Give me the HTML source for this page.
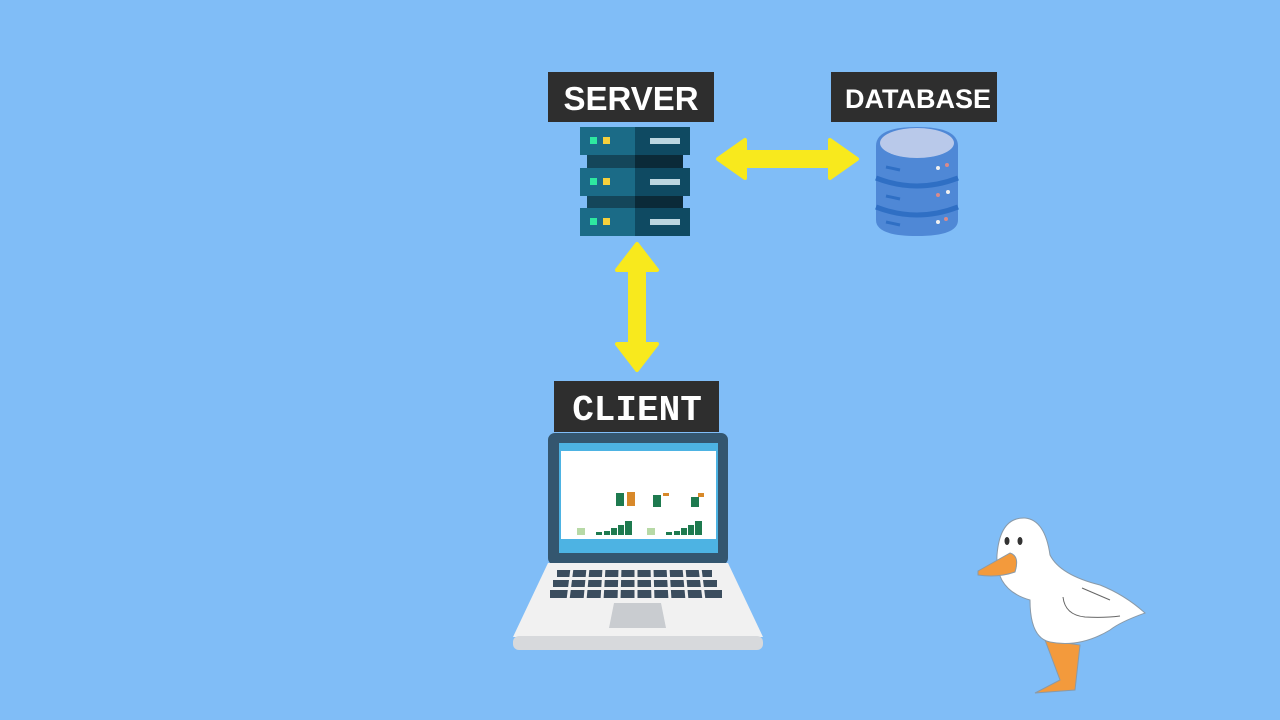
<!DOCTYPE html>
<html><head><meta charset="utf-8"><style>
html,body{margin:0;padding:0;background:#80bdf7;}
svg{display:block}
text{font-family:"Liberation Sans",sans-serif;font-weight:bold;fill:#fff}
</style></head><body>
<svg width="1280" height="720" viewBox="0 0 1280 720">
<rect width="1280" height="720" fill="#80bdf7"/>
<!-- labels -->
<rect x="548" y="72" width="166" height="50" fill="#2e2e2e"/>
<text x="631" y="110" font-size="33" text-anchor="middle">SERVER</text>
<rect x="831" y="72" width="166" height="50" fill="#2e2e2e"/>
<text x="918" y="108" font-size="27" text-anchor="middle">DATABASE</text>
<rect x="554" y="381" width="165" height="51" fill="#2e2e2e"/>
<text x="637" y="420" font-size="36" text-anchor="middle" style="font-family:'Liberation Mono',monospace">CLIENT</text>
<!-- server -->
<g>
<rect x="587" y="154" width="48" height="16" fill="#14465a"/><rect x="635" y="154" width="48" height="16" fill="#0b2a38"/>
<rect x="587" y="195" width="48" height="16" fill="#14465a"/><rect x="635" y="195" width="48" height="16" fill="#0b2a38"/>
<g id="u">
<rect x="580" y="127" width="55" height="28" fill="#1b6b87"/><rect x="635" y="127" width="55" height="28" fill="#0f4a62"/>
<rect x="590" y="137" width="7" height="7" fill="#2ee8a0"/><rect x="603" y="137" width="7" height="7" fill="#f5cf3c"/>
<rect x="650" y="138" width="30" height="6" fill="#bcd6e0"/>
</g>
<use href="#u" y="41"/><use href="#u" y="81"/>
</g>
<!-- arrows -->
<polygon points="718,159 745,140 745,152 830,152 830,140 857,159 830,178 830,166 745,166 745,178" fill="#f8e91d" stroke="#f8e91d" stroke-width="4" stroke-linejoin="round"/>
<polygon points="637,244 657,270 644,270 644,344 657,344 637,370 617,344 630,344 630,270 617,270" fill="#f8e91d" stroke="#f8e91d" stroke-width="4" stroke-linejoin="round"/>
<!-- database -->
<g>
<path d="M876,146 Q876,127 917,127 Q958,127 958,146 L958,220 Q958,236 917,236 Q876,236 876,220 Z" fill="#4f88d6"/>
<ellipse cx="917" cy="143" rx="37" ry="15" fill="#b9c9ea"/>
<path d="M876,178 Q917,194 958,178" stroke="#2f6fc4" stroke-width="5" fill="none"/>
<path d="M876,207 Q917,223 958,207" stroke="#2f6fc4" stroke-width="5" fill="none"/>
<g stroke="#2f6fc4" stroke-width="3"><line x1="886" y1="167" x2="900" y2="170"/><line x1="886" y1="196" x2="900" y2="199"/><line x1="886" y1="222" x2="900" y2="225"/></g>
<g fill="#f0f0f0"><circle cx="938" cy="168" r="2"/><circle cx="948" cy="192" r="2"/><circle cx="938" cy="222" r="2"/></g>
<g fill="#d98a8a"><circle cx="947" cy="165" r="2"/><circle cx="938" cy="195" r="2"/><circle cx="946" cy="219" r="2"/></g>
</g>
<!-- laptop -->
<rect x="548" y="433" width="180" height="132" rx="7" fill="#34566f"/>
<rect x="559" y="443" width="159" height="110" fill="#4db3e3"/>
<rect x="561" y="451" width="155" height="88" fill="#fff"/>
<g fill="#1e7a4f">
<rect x="616" y="493" width="8" height="13"/><rect x="653" y="495" width="8" height="12"/><rect x="691" y="497" width="8" height="10"/>
<rect x="596" y="532" width="6" height="3"/><rect x="604" y="531" width="6" height="4"/><rect x="611" y="528" width="6" height="7"/><rect x="618" y="525" width="6" height="10"/><rect x="625" y="521" width="7" height="14"/>
<rect x="666" y="532" width="6" height="3"/><rect x="674" y="531" width="6" height="4"/><rect x="681" y="528" width="6" height="7"/><rect x="688" y="525" width="6" height="10"/><rect x="695" y="521" width="7" height="14"/>
</g>
<g fill="#d8892a"><rect x="627" y="492" width="8" height="14"/><rect x="663" y="493" width="6" height="3"/><rect x="698" y="493" width="6" height="4"/></g>
<g fill="#b7d9a6"><rect x="577" y="528" width="8" height="7"/><rect x="647" y="528" width="8" height="7"/></g>
<path d="M548,563 L728,563 L763,637 L513,637 Z" fill="#f1f1f1"/>
<rect x="513" y="636" width="250" height="14" rx="6" fill="#d7d9dc"/>
<polygon points="614,603 661,603 666,628 609,628" fill="#c9ccd0"/>
<g fill="#3b4d5e">
<rect x="557" y="570" width="155" height="7"/>
<rect x="553" y="580" width="164" height="7"/>
<rect x="550" y="590" width="172" height="8"/>
</g>
<g stroke="#f1f1f1" stroke-width="3">
<line x1="572" y1="568" x2="568" y2="600"/><line x1="588" y1="568" x2="585" y2="600"/><line x1="604" y1="568" x2="602" y2="600"/><line x1="620" y1="568" x2="619" y2="600"/><line x1="636" y1="568" x2="636" y2="600"/><line x1="652" y1="568" x2="653" y2="600"/><line x1="668" y1="568" x2="670" y2="600"/><line x1="684" y1="568" x2="687" y2="600"/><line x1="700" y1="568" x2="704" y2="600"/>
</g>
<!-- duck -->
<g stroke="#8a9aa8" stroke-width="1">
<path d="M1045,640 L1060,680 L1035,693 L1075,690 L1080,645 Z" fill="#f39a3c"/>
<path d="M1030,600 Q995,590 997,555 Q1000,517 1025,518 Q1045,520 1050,555 Q1060,575 1100,585 Q1125,595 1145,613 Q1120,622 1110,630 Q1080,648 1050,642 Q1030,638 1030,600 Z" fill="#fff"/>
<path d="M978,571 L1010,553 Q1020,556 1015,572 Q998,578 978,575 Z" fill="#f39a3c"/>
<path d="M1063,597 Q1065,615 1085,617 Q1105,618 1120,616" fill="none" stroke="#666"/>
<path d="M1082,588 L1110,600" stroke="#666"/>
</g>
<g fill="#333"><ellipse cx="1007" cy="541" rx="2.5" ry="4"/><ellipse cx="1020" cy="541" rx="2.5" ry="4"/></g>
</svg>
</body></html>
